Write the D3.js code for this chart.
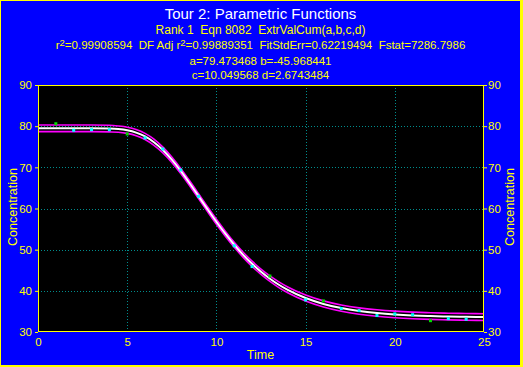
<!DOCTYPE html>
<html><head><meta charset="utf-8">
<script src="https://cdn.jsdelivr.net/npm/d3@7/dist/d3.min.js"></script>
<style>body{margin:0;background:#fff}svg{display:block}text{font-family:"Liberation Sans",Arial,sans-serif;white-space:pre}</style>
</head><body>
<script>
// ---- data ----
const dataTime = [1,2,3,4,5,6,7,8,9,11,12,13,15,16,17,18,19,20,21,22,23,24];
const dataConc = [80.6,79.0,79.15,79.15,78.1,77.15,74.45,69.35,62.95,50.95,45.9,43.6,37.8,37.55,35.7,35.2,34.0,34.4,34.2,32.75,33.25,33.1];
const dataStatus = ["out","in","in","in","out","in","in","in","in","in","in","out","in","out","in","in","in","in","in","out","in","in"];
const fitTime = [0,1,2,3,4,4.5,5,5.5,6,6.5,7,7.5,8,8.5,9,9.5,10,10.5,11,11.5,12,12.5,13,13.5,14,15,16,17,18,19,20,21,22,23,24,25];
const fitConc = [79.47,79.47,79.47,79.47,79.41,79.29,79.00,78.44,77.50,76.10,74.21,71.86,69.13,66.13,63.00,59.85,56.78,53.88,51.19,48.75,46.56,44.63,42.95,41.48,40.23,38.25,36.82,35.81,35.10,34.61,34.27,34.03,33.87,33.76,33.68,33.62];
const upperConc = [80.27,80.27,80.27,80.27,80.21,80.04,79.75,79.19,78.25,76.85,74.91,72.51,69.75,66.73,63.6,60.45,57.38,54.48,51.79,49.37,47.2,45.28,43.62,42.17,40.93,38.97,37.56,36.57,35.87,35.39,35.06,34.83,34.68,34.57,34.5,34.44];
const lowerConc = [78.67,78.67,78.67,78.67,78.61,78.54,78.25,77.69,76.75,75.35,73.51,71.21,68.51,65.53,62.4,59.25,56.18,53.28,50.59,48.13,45.92,43.98,42.28,40.79,39.53,37.53,36.08,35.05,34.33,33.83,33.48,33.23,33.06,32.95,32.86,32.8];
const xTicks = [0,5,10,15,20,25];
const yTicks = [30,40,50,60,70,80,90];
const titleText = "Tour 2: Parametric Functions";
const subLine1 = "Rank 1  Eqn 8082  ExtrValCum(a,b,c,d)";
const subLine3 = "a=79.473468 b=-45.968441";
const subLine4 = "c=10.049568 d=2.6743484";
const xLabel = "Time", yLabel = "Concentration";

const W = 523, H = 367;
const L = 38, R = 484, T = 85, B = 332;
const svg = d3.select("body").append("svg").attr("width", W).attr("height", H);
svg.append("rect").attr("width", W).attr("height", H).attr("fill", "#ffff00");
svg.append("rect").attr("x", 1).attr("y", 1).attr("width", 519).attr("height", 364).attr("fill", "#0000ff");

const x = d3.scaleLinear().domain([0, 25]).range([L, R]);
const y = d3.scaleLinear().domain([30, 90]).range([B, T]);

svg.append("rect").attr("x", L).attr("y", T).attr("width", R - L).attr("height", B - T).attr("fill", "#000");

// grid
const grid = svg.append("g").attr("stroke", "#008c8c").attr("stroke-width", 1).attr("stroke-dasharray", "1,2");
xTicks.slice(1, -1).forEach(t => grid.append("line").attr("x1", Math.round(x(t)) + 0.5).attr("x2", Math.round(x(t)) + 0.5).attr("y1", T).attr("y2", B));
yTicks.slice(1, -1).forEach(t => grid.append("line").attr("y1", Math.round(y(t)) + 0.5).attr("y2", Math.round(y(t)) + 0.5).attr("x1", L).attr("x2", R));

// axes
const yAxisL = d3.axisLeft(y).tickValues(yTicks).tickSize(3).tickPadding(3);
const yAxisR = d3.axisRight(y).tickValues(yTicks).tickSize(3).tickPadding(1);
const xAxisB = d3.axisBottom(x).tickValues(xTicks).tickSize(0).tickPadding(6);
function styleAxis(g) {
  g.select(".domain").remove();
  g.selectAll("line").attr("stroke", "#ffff00");
  g.selectAll("text").attr("fill", "#ffff00").attr("font-size", 11.5);
}
svg.append("g").attr("transform", `translate(${L},0)`).call(yAxisL).call(styleAxis);
svg.append("g").attr("transform", `translate(${R},0)`).call(yAxisR).call(styleAxis);
svg.append("g").attr("transform", `translate(0,${B})`).call(xAxisB).call(styleAxis);

// band & fit
const line = (ys) => d3.line().x((d, i) => x(fitTime[i])).y((d, i) => y(ys[i])).curve(d3.curveMonotoneX)(ys);
svg.append("path").attr("d", line(upperConc)).attr("fill", "none").attr("stroke", "#ff00ff").attr("stroke-width", 1.6);
svg.append("path").attr("d", line(lowerConc)).attr("fill", "none").attr("stroke", "#ff00ff").attr("stroke-width", 1.6);
svg.append("path").attr("d", line(fitConc)).attr("fill", "none").attr("stroke", "#ffffff").attr("stroke-width", 2);

// points
svg.append("g").selectAll("rect").data(dataTime).join("rect")
  .attr("x", (d) => x(d) - 1.5).attr("y", (d, i) => y(dataConc[i]) - 1.5)
  .attr("width", 3).attr("height", 3)
  .attr("fill", (d, i) => dataStatus[i] === "out" ? "#00dd00" : "#00ffff");

// frame
svg.append("rect").attr("x", L + 0.5).attr("y", T + 0.5).attr("width", R - L - 1).attr("height", B - T - 1)
  .attr("fill", "none").attr("stroke", "#ffff00").attr("stroke-width", 1);

// titles
const cx = 260.5;
svg.append("text").attr("x", cx).attr("y", 18.5).attr("text-anchor", "middle").attr("fill", "#fff").attr("font-size", 15).text(titleText);
svg.append("text").attr("x", cx).attr("y", 34).attr("text-anchor", "middle").attr("fill", "#ffff00").attr("font-size", 12).text(subLine1);
const t3 = svg.append("text").attr("x", cx).attr("y", 49).attr("text-anchor", "middle").attr("fill", "#ffff00").attr("font-size", 11.5);
t3.append("tspan").text("r");
t3.append("tspan").attr("dy", -3).attr("font-size", 9.5).text("2");
t3.append("tspan").attr("dy", 3).text("=0.99908594  DF Adj r");
t3.append("tspan").attr("dy", -3).attr("font-size", 9.5).text("2");
t3.append("tspan").attr("dy", 3).text("=0.99889351  FitStdErr=0.62219494  Fstat=7286.7986");
svg.append("text").attr("x", cx).attr("y", 65).attr("text-anchor", "middle").attr("fill", "#ffff00").attr("font-size", 11.5).text(subLine3);
svg.append("text").attr("x", cx).attr("y", 79).attr("text-anchor", "middle").attr("fill", "#ffff00").attr("font-size", 11.5).text(subLine4);

svg.append("text").attr("x", 260.5).attr("y", 359).attr("text-anchor", "middle").attr("fill", "#ffff00").attr("font-size", 12.5).text(xLabel);
svg.append("text").attr("transform", "translate(17,207) rotate(-90)").attr("text-anchor", "middle").attr("fill", "#ffff00").attr("font-size", 12.5).text(yLabel);
svg.append("text").attr("transform", "translate(514,207) rotate(-90)").attr("text-anchor", "middle").attr("fill", "#ffff00").attr("font-size", 12.5).text(yLabel);
</script>
</body></html>
